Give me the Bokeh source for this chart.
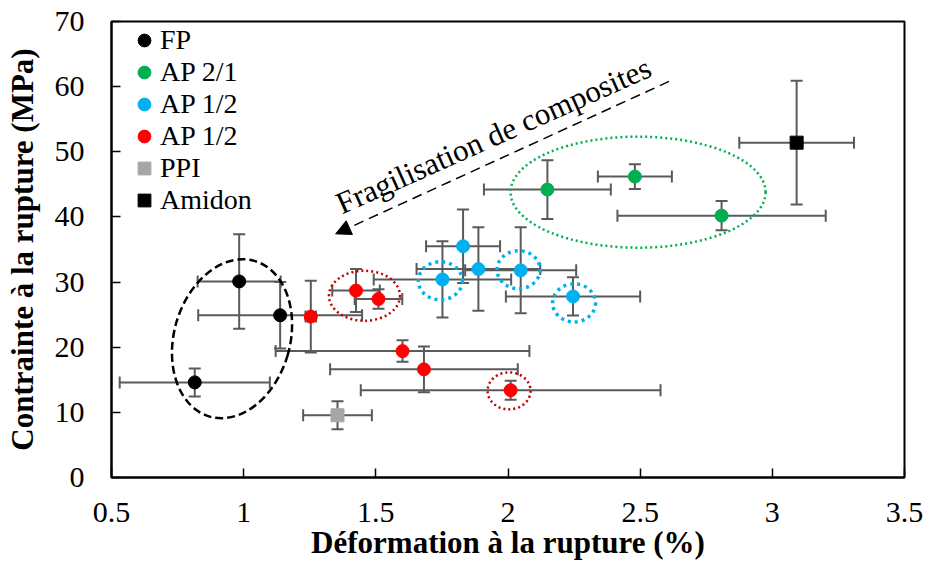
from bokeh.plotting import figure
from bokeh.models import (ColumnDataSource, Whisker, TeeHead, Legend, LegendItem,
                          FixedTicker, Arrow, NormalHead, Label)
from bokeh.embed import file_html
from bokeh.resources import INLINE

# ---------------- data ----------------
x_ticks = [0.5, 1, 1.5, 2, 2.5, 3, 3.5]
x_tick_labels = ["0.5", "1", "1.5", "2", "2.5", "3", "3.5"]
y_ticks = [0, 10, 20, 30, 40, 50, 60, 70]
y_tick_labels = ["0", "10", "20", "30", "40", "50", "60", "70"]

fp_x = [0.983, 1.138, 0.815]
fp_y = [30.1, 24.9, 14.6]
fp_xerr = [0.157, 0.31, 0.284]
fp_yerr = [7.25, 5.1, 2.15]

ap21_x = [2.149, 2.480, 2.808]
ap21_y = [44.2, 46.2, 40.2]
ap21_xerr = [0.24, 0.14, 0.394]
ap21_yerr = [4.5, 1.9, 2.25]

ap12b_x = [1.830, 1.752, 1.888, 2.048, 2.246]
ap12b_y = [35.5, 30.4, 32.0, 31.8, 27.8]
ap12b_xerr = [0.14, 0.26, 0.234, 0.21, 0.254]
ap12b_yerr = [5.65, 5.85, 6.4, 6.6, 2.95]

ap12r_x = [1.254, 1.425, 1.510, 1.601, 1.682, 2.010]
ap12r_y = [24.7, 28.7, 27.4, 19.4, 16.6, 13.4]
ap12r_xerr = [0.02, 0.09, 0.09, 0.48, 0.355, 0.567]
ap12r_yerr = [5.5, 3.3, 1.5, 1.65, 3.5, 1.45]

ppi_x = [1.355]
ppi_y = [9.55]
ppi_xerr = [0.13]
ppi_yerr = [2.15]

amidon_x = [3.092]
amidon_y = [51.4]
amidon_xerr = [0.217]
amidon_yerr = [9.5]

labels = ["FP", "AP 2/1", "AP 1/2", "AP 1/2", "PPI", "Amidon"]
x_title = "Déformation à la rupture (%)"
y_title = "Contrainte à la rupture (MPa)"

# grouping ellipses (centre in data, size in screen px)
black_ell_x = [0.956]
black_ell_y = [21.3]
black_ell_w = [116]
black_ell_h = [162]
black_ell_a = [-0.28]

green_ell_x = [2.492]
green_ell_y = [43.8]
green_ell_w = [255]
green_ell_h = [111]

red_ell_x = [1.457, 2.004]
red_ell_y = [27.9, 13.3]
red_ell_w = [71, 43]
red_ell_h = [50, 37]

blue_ell_x = [1.744, 2.040, 2.250]
blue_ell_y = [30.2, 31.9, 26.8]
blue_ell_w = [44, 43, 43]
blue_ell_h = [38, 38, 38]

arrow_x = [2.609, 1.348]
arrow_y = [60.8, 37.4]
note_x = 1.945
note_y = 52.5
note_text = "Fragilisation de composites"

# ---------------- styles ----------------
FONT = "Liberation Serif"
ERR = "#5a5a5a"
C_FP = "#000000"
C_G = "#00B050"
C_B = "#00B0F0"
C_R = "#FF0000"
C_PPI = "#A6A6A6"
C_AM = "#000000"

p = figure(width=926, height=570, x_range=(0.5, 3.5), y_range=(0, 70),
           output_backend="svg", toolbar_location=None,
           min_border_left=111, min_border_right=22,
           min_border_top=21, min_border_bottom=93)
p.xgrid.visible = False
p.ygrid.visible = False
p.outline_line_color = "black"
p.outline_line_width = 2
p.outline_line_alpha = 1
p.background_fill_color = "white"
p.border_fill_color = "white"

p.xaxis.ticker = FixedTicker(ticks=x_ticks)
p.xaxis.major_label_overrides = {t: l for t, l in zip(x_ticks, x_tick_labels)}
p.yaxis.ticker = FixedTicker(ticks=y_ticks)
p.yaxis.major_label_overrides = {t: l for t, l in zip(y_ticks, y_tick_labels)}
p.xaxis.axis_label = x_title
p.yaxis.axis_label = y_title

for ax in (p.xaxis[0], p.yaxis[0]):
    ax.axis_line_width = 2
    ax.axis_line_color = "black"
    ax.major_tick_in = 9
    ax.major_tick_out = 0
    ax.minor_tick_in = 0
    ax.minor_tick_out = 0
    ax.major_tick_line_width = 1.5
    ax.major_tick_line_color = "black"
    ax.major_label_text_font = FONT
    ax.major_label_text_font_size = "30px"
    ax.major_label_text_color = "black"
    ax.axis_label_text_font = FONT
    ax.axis_label_text_font_style = "bold"
    ax.axis_label_text_font_size = "31px"
    ax.axis_label_text_color = "black"

p.xaxis.major_label_standoff = 25
p.xaxis.axis_label_standoff = 0
p.yaxis.major_label_standoff = 27
p.yaxis.axis_label_standoff = 12


def add_err(xs, ys, xe, ye):
    src = ColumnDataSource(dict(
        x=xs, y=ys,
        xl=[a - b for a, b in zip(xs, xe)], xu=[a + b for a, b in zip(xs, xe)],
        yl=[a - b for a, b in zip(ys, ye)], yu=[a + b for a, b in zip(ys, ye)]))
    for dim, base, lo, up in (("width", "y", "xl", "xu"), ("height", "x", "yl", "yu")):
        w = Whisker(source=src, base=base, lower=lo, upper=up, dimension=dim,
                    line_color=ERR, line_width=2,
                    upper_head=TeeHead(size=12, line_color=ERR, line_width=2),
                    lower_head=TeeHead(size=12, line_color=ERR, line_width=2))
        p.add_layout(w)


add_err(fp_x, fp_y, fp_xerr, fp_yerr)
add_err(ap21_x, ap21_y, ap21_xerr, ap21_yerr)
add_err(ap12b_x, ap12b_y, ap12b_xerr, ap12b_yerr)
add_err(ap12r_x, ap12r_y, ap12r_xerr, ap12r_yerr)
add_err(ppi_x, ppi_y, ppi_xerr, ppi_yerr)
add_err(amidon_x, amidon_y, amidon_xerr, amidon_yerr)

r_fp = p.scatter(fp_x, fp_y, marker="circle", size=13, fill_color=C_FP, line_color=C_FP)
r_g = p.scatter(ap21_x, ap21_y, marker="circle", size=13, fill_color=C_G, line_color=C_G)
r_b = p.scatter(ap12b_x, ap12b_y, marker="circle", size=13, fill_color=C_B, line_color=C_B)
r_r = p.scatter(ap12r_x, ap12r_y, marker="circle", size=13, fill_color=C_R, line_color=C_R)
r_ppi = p.scatter(ppi_x, ppi_y, marker="square", size=13, fill_color=C_PPI, line_color=C_PPI)
r_am = p.scatter(amidon_x, amidon_y, marker="square", size=13, fill_color=C_AM, line_color=C_AM)

# grouping ellipses
p.ellipse(x=black_ell_x, y=black_ell_y, width=black_ell_w, height=black_ell_h,
          angle=black_ell_a, width_units="screen", height_units="screen",
          fill_color=None, line_color="black", line_width=2.5, line_dash="8 4")
p.ellipse(x=green_ell_x, y=green_ell_y, width=green_ell_w, height=green_ell_h,
          width_units="screen", height_units="screen",
          fill_color=None, line_color=C_G, line_width=2.5, line_dash="2 3")
p.ellipse(x=red_ell_x, y=red_ell_y, width=red_ell_w, height=red_ell_h,
          width_units="screen", height_units="screen",
          fill_color=None, line_color="#C00000", line_width=2.5, line_dash="2 3")
p.ellipse(x=blue_ell_x, y=blue_ell_y, width=blue_ell_w, height=blue_ell_h,
          width_units="screen", height_units="screen",
          fill_color=None, line_color=C_B, line_width=3.5, line_dash="3 4")

# annotation arrow + text
p.add_layout(Arrow(end=NormalHead(size=15, fill_color="black", line_color="black", line_width=1),
                   x_start=arrow_x[0], y_start=arrow_y[0], x_end=arrow_x[1], y_end=arrow_y[1],
                   line_color="black", line_width=1.5, line_dash="10 6"))
p.add_layout(Label(x=note_x, y=note_y, text=note_text, angle=0.42,
                   text_font=FONT, text_font_size="31px", text_align="center",
                   text_baseline="alphabetic", text_color="black"))

legend = Legend(items=[LegendItem(label=labels[0], renderers=[r_fp]),
                       LegendItem(label=labels[1], renderers=[r_g]),
                       LegendItem(label=labels[2], renderers=[r_b]),
                       LegendItem(label=labels[3], renderers=[r_r]),
                       LegendItem(label=labels[4], renderers=[r_ppi]),
                       LegendItem(label=labels[5], renderers=[r_am])],
                location=(17, 261), orientation="vertical", padding=0, margin=0,
                spacing=0, glyph_width=32, glyph_height=32, label_height=32,
                label_standoff=0, label_text_font=FONT, label_text_font_size="28px",
                label_text_color="black", border_line_color=None,
                background_fill_alpha=0)
p.add_layout(legend)

open("out.html", "w").write(file_html(p, INLINE))
